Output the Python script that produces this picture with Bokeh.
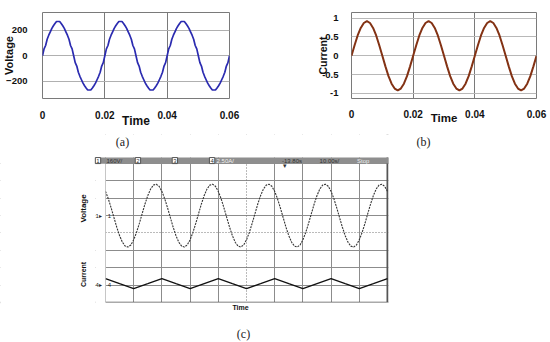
import numpy as np
from bokeh.plotting import figure
from bokeh.models import FixedTicker, Label, BoxAnnotation, Range1d, Grid
from bokeh.layouts import column, row
from bokeh.embed import file_html
from bokeh.resources import INLINE

# ---------------- data ----------------
# (a) inverter output voltage (V), sampled every 0.5 ms
time_a = np.round(np.arange(121) * 0.0005, 5)
voltage_a = [
    0, 54, 81, 130, 162, 189, 216, 236, 254, 270, 270, 270, 254, 236, 216, 189, 162, 130, 81, 54,
    0, -54, -81, -130, -162, -189, -216, -236, -254, -270, -270, -270, -254, -236, -216, -189, -162, -130, -81, -54,
    0, 54, 81, 130, 162, 189, 216, 236, 254, 270, 270, 270, 254, 236, 216, 189, 162, 130, 81, 54,
    0, -54, -81, -130, -162, -189, -216, -236, -254, -270, -270, -270, -254, -236, -216, -189, -162, -130, -81, -54,
    0, 54, 81, 130, 162, 189, 216, 236, 254, 270, 270, 270, 254, 236, 216, 189, 162, 130, 81, 54,
    0, -54, -81, -130, -162, -189, -216, -236, -254, -270, -270, -270, -254, -236, -216, -189, -162, -130, -81, -54,
    0,
]
# (b) load current (A), sampled every 1 ms
time_b = np.round(np.arange(61) * 0.001, 4)
current_b = [
    0, 0.28, 0.54, 0.74, 0.87, 0.92, 0.87, 0.74, 0.54, 0.28,
    0, -0.28, -0.54, -0.74, -0.87, -0.92, -0.87, -0.74, -0.54, -0.28,
    0, 0.28, 0.54, 0.74, 0.87, 0.92, 0.87, 0.74, 0.54, 0.28,
    0, -0.28, -0.54, -0.74, -0.87, -0.92, -0.87, -0.74, -0.54, -0.28,
    0, 0.28, 0.54, 0.74, 0.87, 0.92, 0.87, 0.74, 0.54, 0.28,
    0, -0.28, -0.54, -0.74, -0.87, -0.92, -0.87, -0.74, -0.54, -0.28,
    0,
]
# (c) oscilloscope: voltage (V, 160 V/div) every 1 ms, current (A, 2.5 A/div) every 5 ms
time_c_v = np.arange(101)
voltage_c = [
    223, 155, 72, -18, -107, -185, -245, -281, -289, -270, -223, -155, -72, 18, 107, 185, 245, 281, 289, 270,
    223, 155, 72, -18, -107, -185, -245, -281, -289, -270, -223, -155, -72, 18, 107, 185, 245, 281, 289, 270,
    223, 155, 72, -18, -107, -185, -245, -281, -289, -270, -223, -155, -72, 18, 107, 185, 245, 281, 289, 270,
    223, 155, 72, -18, -107, -185, -245, -281, -289, -270, -223, -155, -72, 18, 107, 185, 245, 281, 289, 270,
    223, 155, 72, -18, -107, -185, -245, -281, -289, -270, -223, -155, -72, 18, 107, 185, 245, 281, 289, 270,
    223,
]
time_c_i = np.arange(21) * 5
current_c = [0.95, 0.22, -0.5, 0.22, 0.95, 0.22, -0.5, 0.22, 0.95, 0.22, -0.5,
             0.22, 0.95, 0.22, -0.5, 0.22, 0.95, 0.22, -0.5, 0.22, 0.95]

x_ticks_ab = [0, 0.02, 0.04, 0.06]
x_tick_labels_ab = {0: "0", 0.02: "0.02", 0.04: "0.04", 0.06: "0.06"}
y_ticks_a = [-200, 0, 200]
y_ticks_b = [-1, -0.5, 0, 0.5, 1]
y_tick_labels_b = {-1: "-1", -0.5: "-0.5", 0: "0", 0.5: "0.5", 1: "1"}
scope_v_grid = [-640, -480, -320, 0, 160, 320, 480]     # V, 160 V/div
scope_t_grid = [0, 10, 20, 30, 40, 60, 70, 80, 90]       # ms, 10 ms/div
status_texts = ["160V/", "2.50A/", "-13.80s", "10.00s/", "Stop"]

SANS = "Liberation Sans"
SERIF = "Liberation Serif"


def style_axes(p, xfs, yfs, xstand, ystand, xlab_stand, ylab_stand, xlab_fs, ylab_fs):
    for ax in (p.xaxis[0], p.yaxis[0]):
        ax.axis_line_color = None
        ax.major_tick_line_color = None
        ax.minor_tick_line_color = None
        ax.major_label_text_font = SANS
        ax.major_label_text_font_style = "bold"
        ax.major_label_text_color = "#111111"
        ax.axis_label_text_font = SANS
        ax.axis_label_text_font_style = "bold"
        ax.axis_label_text_color = "#111111"
    p.xaxis.major_label_text_font_size = xfs
    p.yaxis.major_label_text_font_size = yfs
    p.xaxis.major_label_standoff = xstand
    p.yaxis.major_label_standoff = ystand
    p.xaxis.axis_label_standoff = xlab_stand
    p.yaxis.axis_label_standoff = ylab_stand
    p.xaxis.axis_label_text_font_size = xlab_fs
    p.yaxis.axis_label_text_font_size = ylab_fs


# ---------------- panel (a) ----------------
pA = figure(width=300, height=134, x_range=Range1d(0, 0.06), y_range=Range1d(-337, 341),
            output_backend="svg", toolbar_location=None, title=None,
            min_border_left=40, min_border_right=71, min_border_top=6, min_border_bottom=32)
pA.line(time_a, voltage_a, line_color="#2b2bb0", line_width=1.7)
pA.xaxis.ticker = FixedTicker(ticks=x_ticks_ab)
pA.xaxis.major_label_overrides = x_tick_labels_ab
pA.yaxis.ticker = FixedTicker(ticks=y_ticks_a)
pA.xaxis.axis_label = "Time"
pA.yaxis.axis_label = "Voltage"
style_axes(pA, "10px", "9.5px", 6, 9, -8, -12, "12px", "11px")
pA.xgrid.ticker = FixedTicker(ticks=[0.02, 0.04])
pA.xgrid.grid_line_color = "#7a7a7a"
pA.ygrid.ticker = FixedTicker(ticks=y_ticks_a)
pA.ygrid.grid_line_color = "#b0b0b0"
pA.ygrid.grid_line_width = 1.2
pA.outline_line_color = "#7a7a7a"

# ---------------- panel (b) ----------------
pB = figure(width=250, height=134, x_range=Range1d(0, 0.06), y_range=Range1d(-1.133, 1.149),
            output_backend="svg", toolbar_location=None, title=None,
            min_border_left=51, min_border_right=14, min_border_top=12, min_border_bottom=36)
pB.line(time_b, current_b, line_color="#833214", line_width=2)
pB.xaxis.ticker = FixedTicker(ticks=x_ticks_ab)
pB.xaxis.major_label_overrides = x_tick_labels_ab
pB.yaxis.ticker = FixedTicker(ticks=y_ticks_b)
pB.yaxis.major_label_overrides = y_tick_labels_b
pB.xaxis.axis_label = "Time"
pB.yaxis.axis_label = "Current"
style_axes(pB, "10px", "9.5px", 5, 7, -9, -10, "11.5px", "10.5px")
pB.xgrid.ticker = FixedTicker(ticks=[0.02, 0.04])
pB.xgrid.grid_line_color = "#7a7a7a"
pB.ygrid.ticker = FixedTicker(ticks=y_ticks_b)
pB.ygrid.grid_line_color = "#b8b8b8"
pB.outline_line_color = "#7a7a7a"

# ---------------- panel (c): scope screen ----------------
# frame covers the whole figure; x in ms, y in V (160 V/div), extra range in A (2.5 A/div)
pC = figure(width=550, height=208, x_range=Range1d(-37.234, 157.80), y_range=Range1d(-1168.3, 747.0),
            x_axis_type=None, y_axis_type=None, output_backend="svg", toolbar_location=None,
            title=None, min_border=0)
pC.extra_y_ranges = {"amps": Range1d(-8.255, 21.67)}
pC.outline_line_color = None

pC.add_layout(Grid(dimension=0, ticker=FixedTicker(ticks=scope_t_grid),
                   grid_line_color="#8c8c8c", grid_line_width=1))
pC.add_layout(Grid(dimension=1, ticker=FixedTicker(ticks=scope_v_grid),
                   grid_line_color="#8c8c8c", grid_line_width=1))
pC.add_layout(Grid(dimension=0, ticker=FixedTicker(ticks=[50]),
                   grid_line_color="#777777", grid_line_dash="1 2", grid_line_width=1))
pC.add_layout(Grid(dimension=1, ticker=FixedTicker(ticks=[-160]),
                   grid_line_color="#777777", grid_line_dash="1 2", grid_line_width=1))
pC.add_layout(Grid(dimension=0, ticker=FixedTicker(ticks=[100]),
                   grid_line_color="#555555", grid_line_width=2))
pC.add_layout(Grid(dimension=1, ticker=FixedTicker(ticks=[-800]),
                   grid_line_color="#555555", grid_line_width=1.5))

pC.line(time_c_v, voltage_c, line_color="#333333", line_width=1.1, line_dash="2 1")
pC.line(time_c_i, current_c, y_range_name="amps", line_color="#111111", line_width=1.3)

# white masks around the scope screen
for kw in (dict(right=-3.546), dict(left=100.355), dict(bottom=535.2), dict(top=-800),
           dict(left=-3.546, right=0, top=480)):
    pC.add_layout(BoxAnnotation(fill_color="white", fill_alpha=1, line_alpha=0, **kw))
# status bar
pC.add_layout(BoxAnnotation(left=-3.546, right=100.355, bottom=480, top=535.2,
                            fill_color="#8e8e8e", fill_alpha=1, line_alpha=0))

for xs, txt in zip([-2.66, 11.5, 24.6, 37.8], ["1", "2", "3", "4"]):
    pC.add_layout(Label(x=xs, y=507, text=txt, text_align="center", text_baseline="middle",
                        text_font=SANS, text_font_size="6px", text_color="#333333",
                        background_fill_color="white", border_line_color="#555555", padding=1))
for xs, txt, col in zip([0.35, 39.4, 62.6, 75.9, 89.2], status_texts,
                        ["#333333", "#f2f2f2", "#333333", "#333333", "#eeeeee"]):
    pC.add_layout(Label(x=xs, y=507, text=txt, text_align="left", text_baseline="middle",
                        text_font=SANS, text_font_size="6px", text_color=col))
pC.add_layout(Label(x=63.5, y=462, text="▾", text_align="center", text_baseline="middle",
                    text_font=SANS, text_font_size="7px", text_color="#333333"))

# channel markers
pC.add_layout(Label(x=-2.4, y=0, text="1▸", text_align="center", text_baseline="middle",
                    text_font=SANS, text_font_size="6px", text_color="#222222"))
pC.add_layout(Label(x=0.8, y=0, text="1", text_align="left", text_baseline="middle",
                    text_font=SANS, text_font_size="6px", text_color="#222222"))
pC.add_layout(Label(x=-2.4, y=0, y_range_name="amps", text="4▸", text_align="center",
                    text_baseline="middle", text_font=SANS, text_font_size="6px", text_color="#222222"))
pC.add_layout(Label(x=0.8, y=0, y_range_name="amps", text="4", text_align="left",
                    text_baseline="middle", text_font=SANS, text_font_size="6px", text_color="#222222"))

# scope axis titles
pC.add_layout(Label(x=-7.8, y=66, text="Voltage", angle=np.pi / 2, text_align="center",
                    text_baseline="middle", text_font=SANS, text_font_style="bold",
                    text_font_size="8px", text_color="#111111"))
pC.add_layout(Label(x=-7.8, y=-542, text="Current", angle=np.pi / 2, text_align="center",
                    text_baseline="middle", text_font=SANS, text_font_style="bold",
                    text_font_size="7px", text_color="#111111"))
pC.add_layout(Label(x=47.9, y=-846, text="Time", text_align="center", text_baseline="middle",
                    text_font=SANS, text_font_style="bold", text_font_size="7px", text_color="#111111"))

# panel captions
for xs, ys, txt in ((6.03, 673.4, "(a)"), (112.77, 673.4, "(b)"), (48.94, -1085.5, "(c)")):
    pC.add_layout(Label(x=xs, y=ys, text=txt, text_align="center", text_baseline="middle",
                        text_font=SERIF, text_font_size="12px", text_color="#222222"))

layout = column(row(pA, pB), pC)

open("out.html", "w").write(file_html(layout, INLINE))
